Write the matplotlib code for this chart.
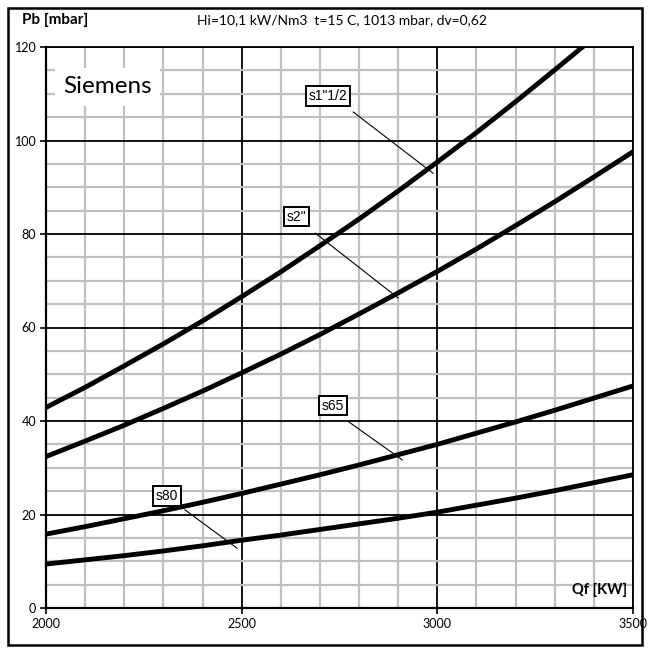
import matplotlib
matplotlib.use("Agg")
import matplotlib.pyplot as plt
from matplotlib.ticker import MultipleLocator
from matplotlib.patches import Rectangle

# Burner gas flow vs. pressure drop for Siemens valve trains
qf_kw = [2000, 2100, 2200, 2300, 2400, 2500, 2600, 2700, 2800,
         2900, 3000, 3100, 3200, 3300, 3400, 3500]

pb_s1_half = [42.9, 47.2, 51.8, 56.5, 61.4, 66.6, 71.9, 77.5, 83.2,
              89.2, 95.4, 101.7, 108.3, 115.1, 122.0, 129.2]
pb_s2 = [32.4, 35.7, 39.1, 42.7, 46.4, 50.3, 54.3, 58.5, 62.9,
         67.4, 72.0, 76.8, 81.8, 86.9, 92.2, 97.6]
pb_s65 = [15.8, 17.4, 19.1, 20.8, 22.6, 24.5, 26.5, 28.5, 30.6,
          32.8, 35.0, 37.4, 39.8, 42.3, 44.9, 47.5]
pb_s80 = [9.4, 10.3, 11.2, 12.2, 13.3, 14.5, 15.6, 16.8, 18.0,
          19.2, 20.5, 22.0, 23.5, 25.1, 26.8, 28.5]

series_names = ['s1"1/2', 's2"', 's65', 's80']
series_values = [pb_s1_half, pb_s2, pb_s65, pb_s80]

# label box centre and leader line (start -> end) in data units
label_boxes = [(2721, 109.5), (2640, 83.7), (2733, 43.3), (2310, 24.0)]
leader_lines = [((2785, 106.1), (2989, 93.0)),
                ((2688, 80.2), (2900, 66.3)),
                ((2774, 39.8), (2910, 31.7)),
                ((2355, 21.0), (2488, 12.8))]

x_ticks = [2000, 2500, 3000, 3500]
y_ticks = [0, 20, 40, 60, 80, 100, 120]

main_font = "Lato"

fig = plt.figure(figsize=(6.5, 6.52), dpi=100)
ax = fig.add_axes([46 / 650, 44 / 652, 587 / 650, 561 / 652])

ax.set_xlim(2000, 3500)
ax.set_ylim(0, 120)

ax.xaxis.set_minor_locator(MultipleLocator(100))
ax.yaxis.set_minor_locator(MultipleLocator(5))
ax.set_xticks(x_ticks)
ax.set_yticks(y_ticks)
ax.set_xticklabels([str(v) for v in x_ticks], fontfamily=main_font, fontsize=9)
ax.set_yticklabels([str(v) for v in y_ticks], fontfamily=main_font, fontsize=9)

ax.set_axisbelow(True)
ax.grid(which="minor", color="#c0c0c0", linewidth=1.6, zorder=0)
ax.grid(which="major", color="black", linewidth=1.3, zorder=1)
ax.tick_params(which="minor", length=0)
ax.tick_params(which="major", length=4, width=1.2, direction="out", pad=3)

for side, sp in ax.spines.items():
    sp.set_color("black")
    sp.set_linewidth(1.6 if side in ("left", "bottom") else 1.3)

for vals in series_values:
    ax.plot(qf_kw, vals, color="black", linewidth=3.5, solid_capstyle="butt",
            zorder=3, clip_on=True)

for name, (bx, by), (p0, p1) in zip(series_names, label_boxes, leader_lines):
    ax.plot([p0[0], p1[0]], [p0[1], p1[1]], color="black", linewidth=0.8, zorder=4)
    ax.text(bx, by, name, ha="center", va="center", fontsize=10,
            fontfamily="Liberation Sans", zorder=5,
            bbox=dict(boxstyle="square,pad=0.2", facecolor="white",
                      edgecolor="black", linewidth=1.4))

ax.text(2157, 111.5, "Siemens", ha="center", va="center", fontsize=17.5,
        fontfamily=main_font, zorder=5,
        bbox=dict(boxstyle="square,pad=0.35", facecolor="white", edgecolor="none"))

ax.text(3485, 3.8, "Qf [KW]", ha="right", va="center", fontsize=10.5,
        fontweight="bold", fontfamily=main_font, zorder=5)

fig.text(22 / 650, 1 - 20 / 652, "Pb [mbar]", ha="left", va="center",
         fontsize=11, fontweight="bold", fontfamily=main_font)
fig.text(342 / 650, 1 - 20 / 652, "Hi=10,1 kW/Nm3  t=15 C, 1013 mbar, dv=0,62",
         ha="center", va="center", fontsize=10, fontfamily=main_font)

fig.patches.append(Rectangle((8 / 650, 7 / 652), 634 / 650, 637 / 652,
                             transform=fig.transFigure, fill=False,
                             edgecolor="black", linewidth=1.8))

fig.savefig("out.png", dpi=100, facecolor="white")
